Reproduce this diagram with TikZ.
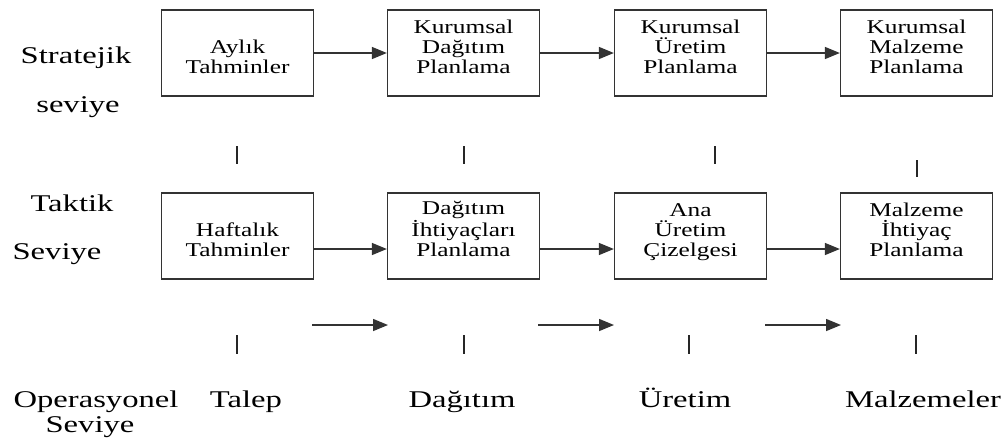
\documentclass[tikz,border=0pt]{standalone}
\usepackage{fontspec}
\setmainfont{Liberation Serif}
\newfontfamily\boxfont{Liberation Serif}[FakeStretch=1.3]
\newfontfamily\sidefont{Liberation Serif}[FakeStretch=1.36]
\usetikzlibrary{arrows.meta}
\tikzset{
  box/.style={draw=black!80, line width=1.3pt, minimum width=152pt, minimum height=86pt, inner sep=0pt},
  boxtxt/.style={font=\boxfont\fontsize{19.5}{20}\selectfont, align=center, anchor=base, inner sep=0pt},
  side/.style={font=\sidefont\fontsize{24}{28}\selectfont, anchor=base, inner sep=0pt},
  arr/.style={-{Triangle[length=15pt,width=12pt]}, line width=1.5pt, draw=black!80},
  tickline/.style={line width=1.5pt, draw=black!85}
}
\begin{document}
\begin{tikzpicture}[x=1pt,y=-1pt]
\path[use as bounding box] (0,0) rectangle (1008,440);
% side labels
\node[side] (s1) at (76,63) {Stratejik};
\node[side] (s2) at (78,112) {seviye};
\node[side] (s3) at (72,211) {Taktik};
\node[side] (s4) at (57,259) {Seviye};
\node[side] (s5) at (96,407) {Operasyonel};
\node[side] (s6) at (90,432) {Seviye};
% top boxes
\node[box] (a1) at (237.5,53) {};
\node[box] (a2) at (463.5,53) {};
\node[box] (a3) at (690.5,53) {};
\node[box] (a4) at (916.5,53) {};
\node[boxtxt] (ta1) at (237.5,73) {Aylık\\Tahminler};
\node[boxtxt] (ta2) at (463.5,73) {Kurumsal\\Dağıtım\\Planlama};
\node[boxtxt] (ta3) at (690.5,73) {Kurumsal\\Üretim\\Planlama};
\node[boxtxt] (ta4) at (916.5,73) {Kurumsal\\Malzeme\\Planlama};
% bottom boxes
\node[box] (b1) at (237.5,236) {};
\node[box] (b2) at (463.5,236) {};
\node[box] (b3) at (690.5,236) {};
\node[box] (b4) at (916.5,236) {};
\node[boxtxt] (tb1) at (237.5,256) {Haftalık\\Tahminler};
\node[boxtxt] (tb2) at (463.5,256) {Dağıtım\\İhtiyaçları\\Planlama};
\node[boxtxt] (tb3) at (690.5,256) {Ana\\Üretim\\Çizelgesi};
\node[boxtxt] (tb4) at (916.5,256) {Malzeme\\İhtiyaç\\Planlama};
% arrows between boxes
\draw[arr] (a1) -- (a2);
\draw[arr] (a2) -- (a3);
\draw[arr] (a3) -- (a4);
\draw[arr] (b1.east |- 0,249) -- (b2.west |- 0,249);
\draw[arr] (b2.east |- 0,249) -- (b3.west |- 0,249);
\draw[arr] (b3.east |- 0,249) -- (b4.west |- 0,249);
% ticks between rows
\coordinate (k1a) at (237,146); \coordinate (k1b) at (237,164);
\coordinate (k2a) at (464,146); \coordinate (k2b) at (464,164);
\coordinate (k3a) at (715,146); \coordinate (k3b) at (715,164);
\coordinate (k4a) at (917,160); \coordinate (k4b) at (917,177);
\draw[tickline] (k1a) -- (k1b);
\draw[tickline] (k2a) -- (k2b);
\draw[tickline] (k3a) -- (k3b);
\draw[tickline] (k4a) -- (k4b);
% operational row
\coordinate (p1a) at (312,325); \coordinate (p1b) at (388,325);
\coordinate (p2a) at (538,325); \coordinate (p2b) at (614,325);
\coordinate (p3a) at (765,325); \coordinate (p3b) at (841,325);
\draw[arr] (p1a) -- (p1b);
\draw[arr] (p2a) -- (p2b);
\draw[arr] (p3a) -- (p3b);
\coordinate (m1a) at (237,335); \coordinate (m1b) at (237,354);
\coordinate (m2a) at (464,335); \coordinate (m2b) at (464,354);
\coordinate (m3a) at (689,335); \coordinate (m3b) at (689,354);
\coordinate (m4a) at (916,335); \coordinate (m4b) at (916,354);
\draw[tickline] (m1a) -- (m1b);
\draw[tickline] (m2a) -- (m2b);
\draw[tickline] (m3a) -- (m3b);
\draw[tickline] (m4a) -- (m4b);
\node[side] (o1) at (246,407) {Talep};
\node[side] (o2) at (462,407) {Dağıtım};
\node[side] (o3) at (685,407) {Üretim};
\node[side] (o4) at (923,407) {Malzemeler};
\end{tikzpicture}
\end{document}
